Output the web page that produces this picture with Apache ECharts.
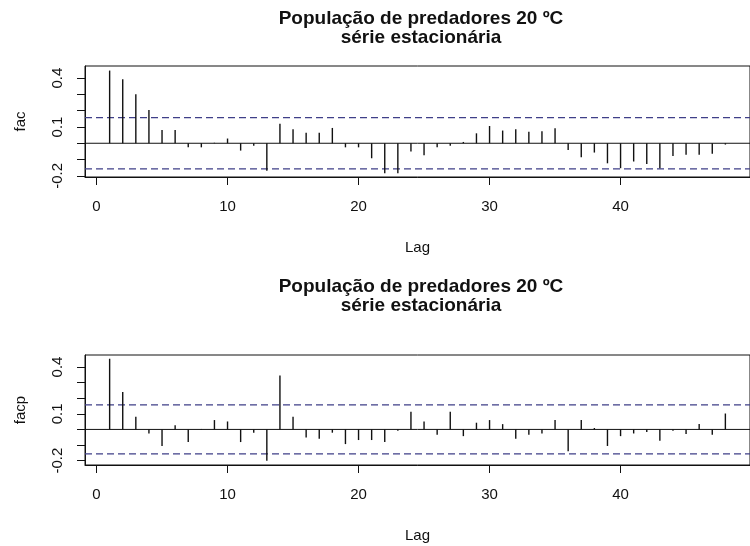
<!DOCTYPE html>
<html>
<head>
<meta charset="utf-8">
<script src="https://cdn.jsdelivr.net/npm/echarts@6/dist/echarts.min.js"></script>
<style>
  html, body { margin: 0; padding: 0; background: #ffffff; }
  #chart { width: 750px; height: 546px; }
</style>
</head>
<body>
<div id="chart"></div>
<script>
// Lags shown in both correlograms
const lags = [1, 2, 3, 4, 5, 6, 7, 8, 9, 10, 11, 12, 13, 14, 15, 16, 17, 18, 19, 20, 21, 22, 23, 24,
              25, 26, 27, 28, 29, 30, 31, 32, 33, 34, 35, 36, 37, 38, 39, 40, 41, 42, 43, 44, 45, 46, 47, 48];

// Autocorrelation (fac)
const facValues = [0.446, 0.393, 0.300, 0.204, 0.082, 0.082, -0.025, -0.025, 0.003, 0.029, -0.045, -0.016,
                   -0.168, 0.119, 0.086, 0.065, 0.065, 0.094, -0.025, -0.025, -0.092, -0.184, -0.184, -0.051,
                   -0.074, -0.025, -0.016, 0.008, 0.061, 0.106, 0.078, 0.086, 0.070, 0.074, 0.092, -0.041,
                   -0.086, -0.057, -0.123, -0.153, -0.112, -0.127, -0.153, -0.078, -0.070, -0.070, -0.065, -0.008];

// Partial autocorrelation (facp)
const facpValues = [0.453, 0.240, 0.081, -0.026, -0.106, 0.026, -0.081, 0.003, 0.060, 0.051, -0.081, -0.021,
                    -0.200, 0.345, 0.081, -0.051, -0.060, -0.021, -0.094, -0.068, -0.068, -0.081, -0.009, 0.113,
                    0.051, -0.034, 0.113, -0.043, 0.043, 0.060, 0.034, -0.060, -0.034, -0.026, 0.060, -0.140,
                    0.060, 0.009, -0.106, -0.043, -0.026, -0.017, -0.072, -0.009, -0.030, 0.034, -0.034, 0.102];

// Significance band (approx. 2/sqrt(n))
const confLimit = 0.157;

// Axis ticks and labels
const xTicks = [0, 10, 20, 30, 40];
const yTicks = [-0.2, -0.1, 0, 0.1, 0.2, 0.3, 0.4];
const yTickLabels = [-0.2, 0.1, 0.4];

const titleLines = ['População de predadores 20 ºC', 'série estacionária'];
const yNames = ['fac', 'facp'];
const xName = 'Lag';

// Axis ranges (R-style 4% padding around the data)
const xMin = -0.88, xMax = 49.88;
const yRanges = [[-0.207, 0.474], [-0.228, 0.477]];

const FONT = '"Liberation Sans", Arial, sans-serif';
const INK = '#111';

const panels = [facValues, facpValues];
const gridTops = [66, 355];
const gridHeights = [111, 110];
const titleTops = [4, 272];

const option = {
  animation: false,
  backgroundColor: '#ffffff',
  title: titleTops.map(top => ({
    text: titleLines.join('\n'),
    left: 416,
    top: top,
    textAlign: 'center',
    textStyle: { fontFamily: FONT, fontWeight: 'bold', fontSize: 19, lineHeight: 19, color: INK }
  })),
  grid: gridTops.map((top, i) => ({
    left: 85, top: top, width: 674, height: gridHeights[i],
    show: true, borderColor: INK, borderWidth: 1, backgroundColor: 'transparent'
  })),
  xAxis: panels.map((_, i) => ({
    gridIndex: i,
    type: 'value',
    min: xMin, max: xMax,
    name: xName,
    nameLocation: 'middle',
    nameGap: 63,
    nameTextStyle: { fontFamily: FONT, fontSize: 15, color: INK },
    axisLine: { show: true, onZero: false, lineStyle: { color: INK, width: 1 } },
    axisTick: { show: true, length: 8, customValues: xTicks, lineStyle: { color: INK, width: 1 } },
    axisLabel: { show: true, customValues: xTicks, margin: 22, fontFamily: FONT, fontSize: 15, color: INK },
    splitLine: { show: false }
  })),
  yAxis: panels.map((_, i) => ({
    gridIndex: i,
    type: 'value',
    min: yRanges[i][0], max: yRanges[i][1],
    name: yNames[i],
    nameLocation: 'middle',
    nameGap: 57,
    nameTextStyle: { fontFamily: FONT, fontSize: 15, color: INK },
    axisLine: { show: true, onZero: false, lineStyle: { color: INK, width: 1 } },
    axisTick: { show: true, length: 8, customValues: yTicks, lineStyle: { color: INK, width: 1 } },
    axisLabel: {
      show: true, customValues: yTickLabels, rotate: 90, margin: 20,
      fontFamily: FONT, fontSize: 15, color: INK,
      formatter: v => String(Math.round(v * 10) / 10)
    },
    splitLine: { show: false }
  })),
  series: []
};

panels.forEach((values, i) => {
  // vertical spikes from zero to each coefficient
  option.series.push({
    type: 'custom',
    xAxisIndex: i, yAxisIndex: i,
    encode: { x: 0, y: 1 },
    data: lags.map((lag, k) => [lag, values[k]]),
    renderItem: (params, api) => {
      const p0 = api.coord([api.value(0), 0]);
      const p1 = api.coord([api.value(0), api.value(1)]);
      return {
        type: 'line',
        shape: { x1: p0[0], y1: p0[1], x2: p1[0], y2: p1[1] },
        style: { stroke: INK, lineWidth: 1.4 }
      };
    },
    z: 3
  });
  // zero line
  option.series.push({
    type: 'line', xAxisIndex: i, yAxisIndex: i,
    data: [[xMin, 0], [xMax, 0]],
    showSymbol: false, symbol: 'none', silent: true,
    lineStyle: { color: INK, width: 1 }, z: 2
  });
  // significance band
  [confLimit, -confLimit].forEach(c => {
    option.series.push({
      type: 'line', xAxisIndex: i, yAxisIndex: i,
      data: [[xMin, c], [xMax, c]],
      showSymbol: false, symbol: 'none', silent: true,
      lineStyle: { color: '#3f3f88', width: 1.2, type: [7, 4] }, z: 2
    });
  });
});

const chart = echarts.init(document.getElementById('chart'), null, { renderer: 'canvas' });
chart.setOption(option);
</script>
</body>
</html>
